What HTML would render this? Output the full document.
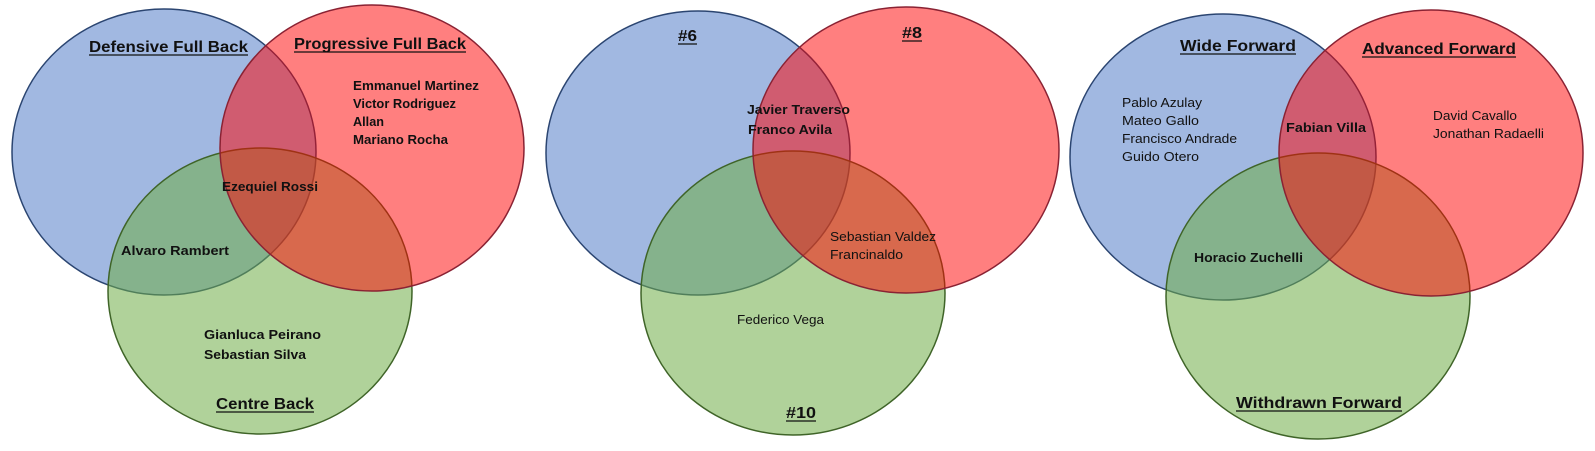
<!DOCTYPE html>
<html><head><meta charset="utf-8"><style>
html,body{margin:0;padding:0;background:#fff;}
svg{display:block;}
text{font-family:"Liberation Sans",sans-serif;fill:#111;}
.h{font-size:16px;font-weight:bold;}
.n{font-size:12.5px;font-weight:bold;}
.m{font-size:12.5px;font-weight:normal;}
.b{fill:rgba(68,114,196,0.5);stroke:#2B4571;stroke-width:1.5;}
.r{fill:rgba(255,0,0,0.5);stroke:#8A2233;stroke-width:1.5;}
.g{fill:rgba(112,173,71,0.55);stroke:#3F6428;stroke-width:1.5;}
.u{stroke:#111;stroke-width:1.3;}
</style></head><body>
<svg width="1595" height="451" viewBox="0 0 1595 451" xmlns="http://www.w3.org/2000/svg">
<!-- Venn 1 -->
<ellipse class="b" cx="164" cy="152" rx="152" ry="143"/>
<ellipse class="g" cx="260" cy="291" rx="152" ry="143"/>
<ellipse class="r" cx="372" cy="148" rx="152" ry="143"/>
<text class="h" x="89" y="52" textLength="159" lengthAdjust="spacingAndGlyphs">Defensive Full Back</text>
<line class="u" x1="89" y1="55" x2="248" y2="55"/>
<text class="h" x="294" y="49" textLength="172" lengthAdjust="spacingAndGlyphs">Progressive Full Back</text>
<line class="u" x1="294" y1="52" x2="466" y2="52"/>
<text class="n" x="353" y="90" textLength="126" lengthAdjust="spacingAndGlyphs">Emmanuel Martinez</text>
<text class="n" x="353" y="108" textLength="103" lengthAdjust="spacingAndGlyphs">Victor Rodriguez</text>
<text class="n" x="353" y="126" textLength="31" lengthAdjust="spacingAndGlyphs">Allan</text>
<text class="n" x="353" y="144" textLength="95" lengthAdjust="spacingAndGlyphs">Mariano Rocha</text>
<text class="n" x="222" y="191" textLength="96" lengthAdjust="spacingAndGlyphs">Ezequiel Rossi</text>
<text class="n" x="121" y="255" textLength="108" lengthAdjust="spacingAndGlyphs">Alvaro Rambert</text>
<text class="n" x="204" y="339" textLength="117" lengthAdjust="spacingAndGlyphs">Gianluca Peirano</text>
<text class="n" x="204" y="359" textLength="102" lengthAdjust="spacingAndGlyphs">Sebastian Silva</text>
<text class="h" x="216" y="409" textLength="98" lengthAdjust="spacingAndGlyphs">Centre Back</text>
<line class="u" x1="216" y1="412" x2="314" y2="412"/>

<!-- Venn 2 -->
<ellipse class="b" cx="698" cy="153" rx="152" ry="142"/>
<ellipse class="g" cx="793" cy="293" rx="152" ry="142"/>
<ellipse class="r" cx="906" cy="150" rx="153" ry="143"/>
<text class="h" x="678" y="41" textLength="19" lengthAdjust="spacingAndGlyphs">#6</text>
<line class="u" x1="678" y1="44" x2="697" y2="44"/>
<text class="h" x="902" y="38" textLength="20" lengthAdjust="spacingAndGlyphs">#8</text>
<line class="u" x1="902" y1="41" x2="922" y2="41"/>
<text class="n" x="747" y="114" textLength="103" lengthAdjust="spacingAndGlyphs">Javier Traverso</text>
<text class="n" x="748" y="134" textLength="84" lengthAdjust="spacingAndGlyphs">Franco Avila</text>
<text class="m" x="830" y="241" textLength="106" lengthAdjust="spacingAndGlyphs">Sebastian Valdez</text>
<text class="m" x="830" y="259" textLength="73" lengthAdjust="spacingAndGlyphs">Francinaldo</text>
<text class="m" x="737" y="324" textLength="87" lengthAdjust="spacingAndGlyphs">Federico Vega</text>
<text class="h" x="786" y="418" textLength="30" lengthAdjust="spacingAndGlyphs">#10</text>
<line class="u" x1="786" y1="421" x2="816" y2="421"/>

<!-- Venn 3 -->
<ellipse class="b" cx="1223" cy="157" rx="153" ry="143"/>
<ellipse class="g" cx="1318" cy="296" rx="152" ry="143"/>
<ellipse class="r" cx="1431" cy="153" rx="152" ry="143"/>
<text class="h" x="1180" y="51" textLength="116" lengthAdjust="spacingAndGlyphs">Wide Forward</text>
<line class="u" x1="1180" y1="54" x2="1296" y2="54"/>
<text class="h" x="1362" y="54" textLength="154" lengthAdjust="spacingAndGlyphs">Advanced Forward</text>
<line class="u" x1="1362" y1="57" x2="1516" y2="57"/>
<text class="m" x="1122" y="107" textLength="80" lengthAdjust="spacingAndGlyphs">Pablo Azulay</text>
<text class="m" x="1122" y="125" textLength="77" lengthAdjust="spacingAndGlyphs">Mateo Gallo</text>
<text class="m" x="1122" y="143" textLength="115" lengthAdjust="spacingAndGlyphs">Francisco Andrade</text>
<text class="m" x="1122" y="161" textLength="77" lengthAdjust="spacingAndGlyphs">Guido Otero</text>
<text class="n" x="1286" y="132" textLength="80" lengthAdjust="spacingAndGlyphs">Fabian Villa</text>
<text class="m" x="1433" y="120" textLength="84" lengthAdjust="spacingAndGlyphs">David Cavallo</text>
<text class="m" x="1433" y="138" textLength="111" lengthAdjust="spacingAndGlyphs">Jonathan Radaelli</text>
<text class="n" x="1194" y="262" textLength="109" lengthAdjust="spacingAndGlyphs">Horacio Zuchelli</text>
<text class="h" x="1236" y="408" textLength="166" lengthAdjust="spacingAndGlyphs">Withdrawn Forward</text>
<line class="u" x1="1236" y1="411" x2="1402" y2="411"/>
</svg>
</body></html>
